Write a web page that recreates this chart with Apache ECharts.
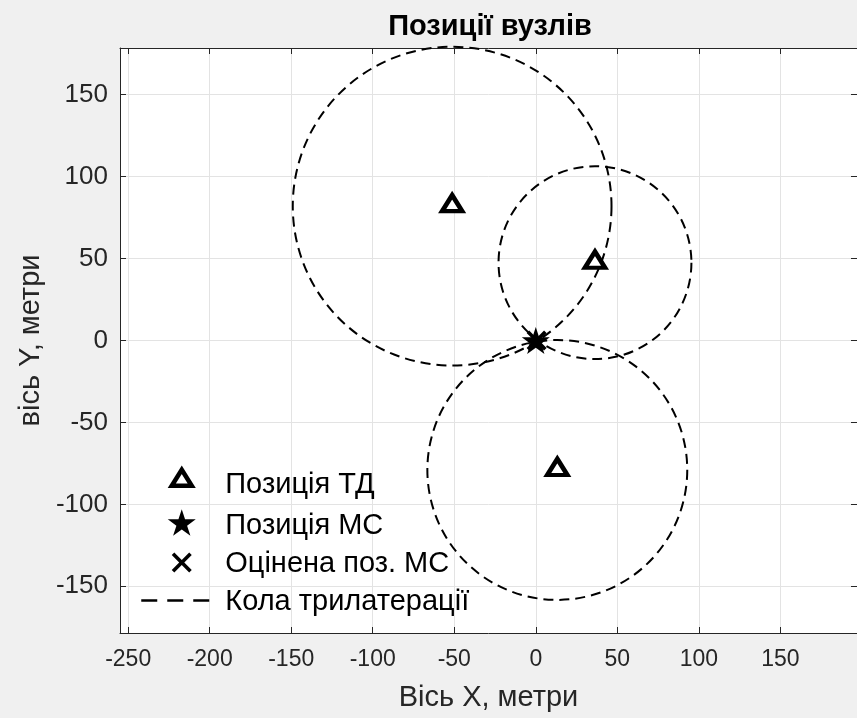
<!DOCTYPE html>
<html>
<head>
<meta charset="utf-8">
<script src="https://cdn.jsdelivr.net/npm/echarts@6/dist/echarts.min.js"></script>
<style>html,body{margin:0;padding:0;background:#f0f0f0;}#c{width:857px;height:718px;}</style>
</head>
<body>
<div id="c"></div>
<script>
// ---- data ----
var TD_X = [-51.3, 36.3, 13.2];      // access-point (ТД) x positions, m
var TD_Y = [82, 47.5, -79];          // access-point (ТД) y positions, m
var RADII = [97.5, 59, 79.5];        // trilateration circle radii, m
var MS_X = [0], MS_Y = [0];          // mobile station position
var EST_X = [0.5], EST_Y = [0];      // estimated MS position
var X_TICKS = [-250, -200, -150, -100, -50, 0, 50, 100, 150];
var Y_TICKS = [-150, -100, -50, 0, 50, 100, 150];
var NAMES = ['Позиція ТД', 'Позиція МС', 'Оцінена поз. МС', 'Кола трилатерації'];

var FONT = 'Liberation Sans, Arial, sans-serif';
var STAR = 'path://M50 0L61.23 34.55L97.55 34.55L68.16 55.9L79.39 90.45L50 69.1L20.61 90.45L31.84 55.9L2.45 34.55L38.77 34.55Z';
var CROSS = 'path://M0 2.55L2.55 0L10 7.45L17.45 0L20 2.55L12.55 10L20 17.45L17.45 20L10 12.55L2.55 20L0 17.45L7.45 10Z';
// legend icons drawn in a 79x50 frame (frame corners fix the scale 1:1)
var FR = 'M0 0M79 50';
var L_TRI = 'path://' + FR + 'M40.5 9.5L50.5 25.5L30.5 25.5Z';
var L_STAR = 'path://' + FR + 'M40.5 8.7L43.8 18.87L54.5 18.87L45.85 25.16L49.15 35.33L40.5 29.04L31.85 35.33L35.15 25.16L26.5 18.87L37.19 18.87Z';
var L_CROSS = 'path://' + FR + 'M30.5 16.55L33.05 14L40.5 21.45L47.95 14L50.5 16.55L43.05 24L50.5 31.45L47.95 34L40.5 26.55L33.05 34L30.5 31.45L37.95 24Z';
var L_DASH = 'path://' + FR + 'M0 22.75h16v2.5h-16zM26 22.75h16v2.5h-16zM52 22.75h16v2.5h-16z';

function pts(xs, ys) { return xs.map(function (x, i) { return [x, ys[i]]; }); }
var circleData = TD_X.map(function (x, i) { return [x, TD_Y[i], RADII[i]]; });

var chart = echarts.init(document.getElementById('c'), null, {renderer: 'canvas'});
var axisLineStyle = {color: '#262626', width: 1};
chart.setOption({
  backgroundColor: '#f0f0f0',
  animation: false,
  textStyle: {fontFamily: FONT},
  title: {
    text: 'Позиції вузлів', left: 490, top: 12, textAlign: 'center', padding: 0,
    textStyle: {fontFamily: FONT, fontWeight: 'bold', fontSize: 29, color: '#000'}
  },
  grid: {left: 120, top: 48, width: 741, height: 585, show: true, backgroundColor: '#fff', borderWidth: 0, containLabel: false},
  xAxis: [{
    type: 'value', position: 'bottom', min: -255, max: 197,
    name: 'Вісь X, метри', nameLocation: 'middle', nameGap: 50,
    nameTextStyle: {fontFamily: FONT, fontSize: 29, color: '#262626'},
    axisLine: {show: true, onZero: false, lineStyle: axisLineStyle},
    axisTick: {show: true, inside: true, length: 6, customValues: X_TICKS, lineStyle: axisLineStyle},
    axisLabel: {customValues: X_TICKS, fontFamily: FONT, fontSize: 23, color: '#262626', margin: 15},
    splitLine: {show: true, lineStyle: {color: '#e3e3e3', width: 1}}
  }, {
    type: 'value', position: 'top', min: -255, max: 197,
    axisLine: {show: true, onZero: false, lineStyle: axisLineStyle},
    axisTick: {show: true, inside: true, length: 6, customValues: X_TICKS, lineStyle: axisLineStyle},
    axisLabel: {show: false}, splitLine: {show: false}
  }],
  yAxis: [{
    type: 'value', position: 'left', min: -178.5, max: 178.5,
    name: 'вісь Y, метри', nameLocation: 'middle', nameGap: 73,
    nameTextStyle: {fontFamily: FONT, fontSize: 29, color: '#262626'},
    axisLine: {show: true, onZero: false, lineStyle: axisLineStyle},
    axisTick: {show: true, inside: true, length: 6, customValues: Y_TICKS, lineStyle: axisLineStyle},
    axisLabel: {customValues: Y_TICKS, fontFamily: FONT, fontSize: 26, color: '#262626', margin: 12},
    splitLine: {show: true, lineStyle: {color: '#e3e3e3', width: 1}}
  }, {
    type: 'value', position: 'right', min: -178.5, max: 178.5,
    axisLine: {show: true, onZero: false, lineStyle: axisLineStyle},
    axisTick: {show: true, inside: true, length: 6, customValues: Y_TICKS, lineStyle: axisLineStyle},
    axisLabel: {show: false}, splitLine: {show: false}
  }],
  legend: {
    orient: 'vertical', left: 139, top: 458, itemWidth: 79, itemHeight: 50, itemGap: -12,
    padding: 0, selectedMode: false, symbolKeepAspect: true,
    textStyle: {fontFamily: FONT, fontSize: 29, color: '#000'},
    data: [
      {name: NAMES[0], icon: L_TRI, itemStyle: {color: '#fff', borderColor: '#000', borderWidth: 4.5, opacity: 1}},
      {name: NAMES[1], icon: L_STAR, itemStyle: {color: '#000', borderWidth: 0, opacity: 1}},
      {name: NAMES[2], icon: L_CROSS, itemStyle: {color: '#000', borderWidth: 0, opacity: 1}},
      {name: NAMES[3], icon: L_DASH, itemStyle: {color: '#000', borderWidth: 0, opacity: 1}}
    ]
  },
  series: [{
    name: NAMES[0], type: 'scatter', xAxisIndex: 0, yAxisIndex: 0,
    data: pts(TD_X, TD_Y), symbol: 'triangle', symbolSize: [20, 16], symbolOffset: [0, -3],
    itemStyle: {color: '#fff', borderColor: '#000', borderWidth: 4.5, opacity: 1}, z: 3
  }, {
    name: NAMES[1], type: 'scatter', data: pts(MS_X, MS_Y), symbol: STAR, symbolSize: [28, 27],
    itemStyle: {color: '#000', opacity: 1}, z: 3
  }, {
    name: NAMES[2], type: 'scatter', data: pts(EST_X, EST_Y), symbol: CROSS, symbolSize: 20,
    itemStyle: {color: '#000', opacity: 1}, z: 3
  }, {
    name: NAMES[3], type: 'custom', data: circleData, encode: {x: 0, y: 1}, clip: false,
    itemStyle: {color: '#000'}, z: 4,
    renderItem: function (params, api) {
      var c = api.coord([api.value(0), api.value(1)]);
      var s = api.size([api.value(2), api.value(2)]);
      return {
        type: 'circle',
        shape: {cx: c[0], cy: c[1], r: (s[0] + s[1]) / 2},
        style: {fill: 'none', stroke: '#000', lineWidth: 2, lineDash: [10, 6]},
        silent: true
      };
    }
  }]
});
</script>
</body>
</html>
